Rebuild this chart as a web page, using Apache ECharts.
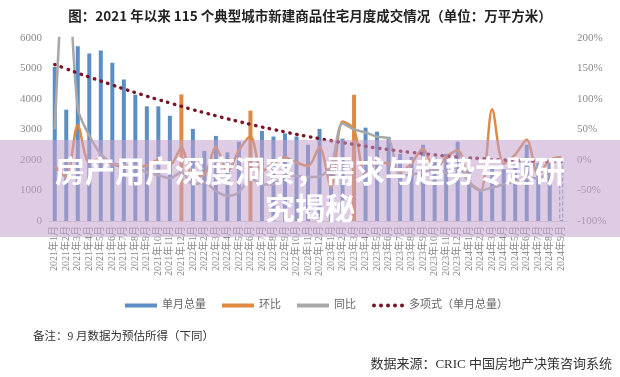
<!DOCTYPE html>
<html><head><meta charset="utf-8">
<script src="https://cdn.jsdelivr.net/npm/echarts@6/dist/echarts.min.js"></script>
<style>html,body{margin:0;padding:0;background:#fff}#c{width:620px;height:377px}</style>
</head><body><div id="c"></div>
<script>
const months = [
 '2021年1月','2021年2月','2021年3月','2021年4月','2021年5月','2021年6月','2021年7月','2021年8月','2021年9月','2021年10月','2021年11月','2021年12月',
 '2022年1月','2022年2月','2022年3月','2022年4月','2022年5月','2022年6月','2022年7月','2022年8月','2022年9月','2022年10月','2022年11月','2022年12月',
 '2023年1月','2023年2月','2023年3月','2023年4月','2023年5月','2023年6月','2023年7月','2023年8月','2023年9月','2023年10月','2023年11月','2023年12月',
 '2024年1月','2024年2月','2024年3月','2024年4月','2024年5月','2024年6月','2024年7月','2024年8月','2024年9月'];
// 单月总量 (万平方米)
const volume = [5050,3650,5730,5490,5590,5190,4640,4140,3760,3760,3450,4150,
 3020,2300,2790,2250,2600,3620,2950,2770,2870,2770,2500,3020,
 1660,2700,4140,3060,2930,2760,2200,2100,2500,2100,2200,2600,
 1700,1000,1800,1700,1850,2500,1900,1900,2000];
// 环比 (%)
const mom = [-10,-28,57,-4,2,-7,-11,-11,-9,0,-8,20,
 -27,-24,21,-19,16,39,-19,-6,4,-4,-10,21,
 -45,63,50,-26,-4,-6,-20,-5,19,-16,5,16,
 -35,-50,83,-6,9,33,-24,0,5];
// 同比 (%)
const yoy = [50,350,85,40,10,-5,-8,-12,-20,-25,-30,-20,
 -40,-37,-51,-59,-53,-30,-40,-40,-25,-26,-28,-27,
 -10,60,50,45,38,35,-25,-24,-20,-15,-20,-10,
 -38,-50,-45,-40,-35,-30,-30,-20,-15];
// 多项式（单月总量）
const trend = [5130,4990,4850,4720,4590,4460,4330,4210,4090,3980,3870,3760,
 3650,3550,3450,3350,3260,3170,3080,3000,2920,2840,2770,2700,
 2630,2570,2510,2450,2390,2340,2290,2250,2210,2170,2130,2100,
 2070,2050,2020,2000,1980,1970,1960,1960,1950];
const highlighted = ['2021年12月','2022年6月','2023年3月'];
const estimated = ['2024年9月'];

const BLUE = '#5b8ec4', ORANGE = '#de8a42', GRAY = '#a8a8a8', DOT = '#7a1527';
const serif = '"Liberation Serif","DejaVu Serif","Noto Sans CJK SC",serif';
const cjk = '"Noto Sans CJK SC","Noto Sans",sans-serif';

const barData = volume.map((v, i) => {
  const m = months[i];
  if (estimated.includes(m)) return {value: v, itemStyle: {color: 'rgba(255,255,255,0)', borderColor: BLUE, borderWidth: 1, borderType: 'dashed'}};
  if (highlighted.includes(m)) return {value: v, itemStyle: {color: ORANGE}};
  return v;
});

const dotPath = 'path://M0,2a2,2 0 1,0 4,0a2,2 0 1,0 -4,0Z M7,2a2,2 0 1,0 4,0a2,2 0 1,0 -4,0Z M14,2a2,2 0 1,0 4,0a2,2 0 1,0 -4,0Z M21,2a2,2 0 1,0 4,0a2,2 0 1,0 -4,0Z M28,2a2,2 0 1,0 4,0a2,2 0 1,0 -4,0Z';

const chart = echarts.init(document.getElementById('c'));
chart.setOption({
  animation: false,
  backgroundColor: '#fff',
  title: {
    text: '图：2021 年以来 115 个典型城市新建商品住宅月度成交情况（单位：万平方米）',
    left: 'center', top: 4,
    textStyle: {fontSize: 13.5, fontWeight: 'bold', color: '#222', fontFamily: cjk}
  },
  grid: {left: 49, right: 53, top: 38, bottom: 156},
  legend: {
    left: 120, top: 295, itemWidth: 32, itemHeight: 4, itemGap: 16,
    textStyle: {fontSize: 11, color: '#666', fontFamily: serif},
    data: [
      {name: '单月总量', icon: 'rect', itemStyle: {color: BLUE}},
      {name: '环比', icon: 'rect', itemStyle: {color: ORANGE}},
      {name: '同比', icon: 'rect', itemStyle: {color: GRAY}},
      {name: '多项式（单月总量）', icon: dotPath, itemStyle: {color: DOT}}
    ]
  },
  xAxis: {
    type: 'category', data: months,
    axisLine: {lineStyle: {color: '#d9d9d9'}},
    axisTick: {show: false},
    axisLabel: {rotate: 90, interval: 0, fontSize: 10, color: '#8a8a8a', fontFamily: serif, margin: 5}
  },
  yAxis: [
    {type: 'value', min: 0, max: 6000, interval: 1000, splitLine: {show: false},
     axisLine: {show: false}, axisTick: {show: false},
     axisLabel: {formatter: v => String(v), color: '#8a8a8a', fontSize: 11, fontFamily: serif, margin: 7}},
    {type: 'value', min: -100, max: 200, interval: 50, splitLine: {show: false},
     axisLine: {show: false}, axisTick: {show: false},
     axisLabel: {formatter: v => v + '%', color: '#8a8a8a', fontSize: 11, fontFamily: serif, margin: 10}}
  ],
  series: [
    {name: '单月总量', type: 'bar', data: barData, barWidth: 4, itemStyle: {color: BLUE}},
    {name: '环比', type: 'line', yAxisIndex: 1, data: mom, smooth: 0.3, symbol: 'none',
     lineStyle: {color: ORANGE, width: 2.5}, itemStyle: {color: ORANGE}},
    {name: '同比', type: 'line', yAxisIndex: 1, data: yoy, smooth: 0.3, symbol: 'none',
     lineStyle: {color: GRAY, width: 2.5}, itemStyle: {color: GRAY}},
    {name: '多项式（单月总量）', type: 'line', yAxisIndex: 0, data: trend, smooth: true, symbol: 'none',
     lineStyle: {color: DOT, width: 3.4, type: [0.5, 6.5], cap: 'round'}, itemStyle: {color: DOT}}
  ],
  graphic: [
    {type: 'text', left: 33, top: 331, z: 10,
     style: {text: '备注：9 月数据为预估所得（下同）', fill: '#333', font: '11.5px ' + serif}},
    {type: 'text', right: 8, top: 358, z: 10,
     style: {text: '数据来源：CRIC 中国房地产决策咨询系统', fill: '#333', font: '13px ' + serif}},
    {type: 'rect', left: 0, top: 140, z: 100,
     shape: {width: 620, height: 97},
     style: {fill: 'rgba(195,160,205,0.55)'}},
    {type: 'text', x: 310, y: 171, z: 101,
     style: {text: '房产用户深度洞察，需求与趋势专题研', fill: '#fff', font: 'bold 30px ' + cjk,
       align: 'center', verticalAlign: 'middle', textAlign: 'center', textVerticalAlign: 'middle',
       shadowColor: 'rgba(0,0,0,0.15)', shadowBlur: 3}},
    {type: 'text', x: 310, y: 208, z: 101,
     style: {text: '究揭秘', fill: '#fff', font: 'bold 30px ' + cjk,
       align: 'center', verticalAlign: 'middle', textAlign: 'center', textVerticalAlign: 'middle',
       shadowColor: 'rgba(0,0,0,0.15)', shadowBlur: 3}}
  ]
});
</script></body></html>
